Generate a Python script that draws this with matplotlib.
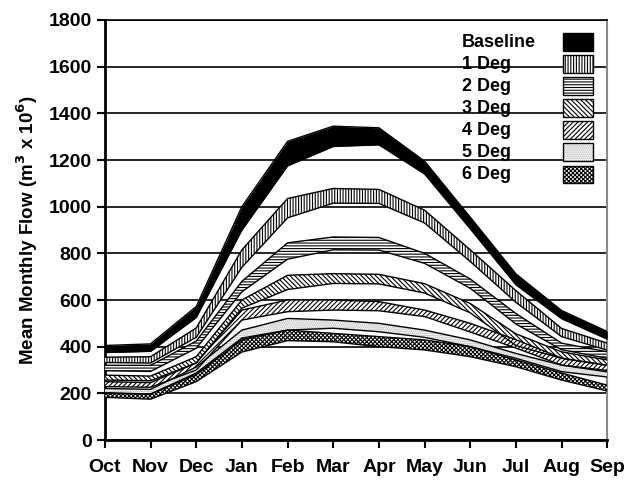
import matplotlib
matplotlib.use("Agg")
import matplotlib.pyplot as plt
from matplotlib.patches import Rectangle
import numpy as np

plt.rcParams['font.family'] = ['Liberation Sans', 'DejaVu Sans']
plt.rcParams['font.weight'] = 'bold'
plt.rcParams['hatch.linewidth'] = 0.8

months = ['Oct', 'Nov', 'Dec', 'Jan', 'Feb', 'Mar', 'Apr', 'May', 'Jun', 'Jul', 'Aug', 'Sep']
scenarios = ['Baseline', '1 Deg', '2 Deg', '3 Deg', '4 Deg', '5 Deg', '6 Deg']

# upper and lower edge of each flow band (m3 x 10^6)
base_hi = [405, 412, 572, 1000, 1280, 1345, 1338, 1195, 955, 712, 555, 465]
base_lo = [375, 380, 525, 900, 1175, 1258, 1265, 1140, 905, 665, 520, 432]
deg1_hi = [355, 357, 480, 815, 1035, 1078, 1074, 985, 815, 640, 478, 415]
deg1_lo = [332, 330, 440, 740, 952, 1015, 1014, 930, 765, 590, 443, 385]
deg2_hi = [320, 320, 424, 680, 845, 870, 868, 800, 690, 542, 415, 378]
deg2_lo = [297, 294, 393, 635, 775, 815, 814, 757, 650, 497, 387, 350]
deg3_hi = [278, 274, 357, 600, 706, 713, 710, 670, 585, 455, 378, 343]
deg3_lo = [257, 254, 330, 565, 645, 671, 669, 630, 545, 405, 350, 320]
deg4_hi = [250, 246, 330, 557, 600, 600, 593, 557, 500, 430, 351, 320]
deg4_lo = [229, 226, 300, 514, 550, 557, 554, 529, 463, 394, 321, 298]
deg5_hi = [221, 217, 313, 471, 521, 514, 500, 471, 429, 371, 321, 292]
deg5_lo = [203, 197, 280, 429, 471, 479, 464, 440, 400, 350, 293, 270]
deg6_hi = [200, 197, 287, 437, 471, 457, 443, 429, 400, 343, 287, 235]
deg6_lo = [183, 175, 250, 377, 426, 421, 400, 386, 357, 314, 257, 210]

highs = [base_hi, deg1_hi, deg2_hi, deg3_hi, deg4_hi, deg5_hi, deg6_hi]
lows = [base_lo, deg1_lo, deg2_lo, deg3_lo, deg4_lo, deg5_lo, deg6_lo]

# (face colour, hatch colour, hatch)
styles = [('black', 'black', None),
          ('white', 'black', '||||||'),
          ('white', 'black', '------'),
          ('white', 'black', '\\\\\\\\\\\\\\'),
          ('white', 'black', '///////'),
          ('white', '#aaaaaa', '........'),
          ('white', 'black', 'xxxxxxxx')]

fig = plt.figure(figsize=(6.28, 4.83), dpi=100)
ax = fig.add_axes([0.167, 0.089, 0.8, 0.8696])

x = np.arange(len(months))
for hi, lo, (fc, hc, h) in zip(highs, lows, styles):
    ax.fill_between(x, lo, hi, facecolor=fc, edgecolor=hc, hatch=h, linewidth=0, zorder=3)
    ax.plot(x, hi, color='black', lw=1, zorder=4)
    ax.plot(x, lo, color='black', lw=1, zorder=4)

ax.set_xlim(0, 11)
ax.set_ylim(0, 1800)
ax.set_yticks(range(0, 1801, 200))
ax.set_xticks(x)
ax.set_xticklabels(months)
ax.yaxis.grid(True, color='black', lw=1.2)
ax.set_axisbelow(True)
ax.tick_params(axis='both', labelsize=14, direction='out', width=1.5, length=6)
ax.tick_params(axis='x', pad=8)
for s in ['left', 'bottom']:
    ax.spines[s].set_linewidth(2)
ax.spines['right'].set_color('#888888')
ax.spines['right'].set_linewidth(1.5)
ax.spines['top'].set_linewidth(1.2)
ax.set_ylabel('Mean Monthly Flow (m$^\\mathbf{3}$ x 10$^\\mathbf{6}$)', fontsize=13.5, fontweight='bold', labelpad=6)

# legend drawn by hand: labels left, swatches right
for i, (name, (fc, hc, h)) in enumerate(zip(scenarios, styles)):
    yc = 0.9475 - i * 0.0525
    ax.text(0.711, yc, name, transform=ax.transAxes, fontsize=13, fontweight='bold',
            va='center', ha='left', zorder=6)
    ax.add_patch(Rectangle((0.912, yc - 0.021), 0.06, 0.042, transform=ax.transAxes,
                           facecolor=fc, edgecolor=hc, hatch=h, lw=0, zorder=6))
    ax.add_patch(Rectangle((0.912, yc - 0.021), 0.06, 0.042, transform=ax.transAxes,
                           facecolor='none', edgecolor='black', lw=1, zorder=7))

fig.savefig('out.png', dpi=100)
